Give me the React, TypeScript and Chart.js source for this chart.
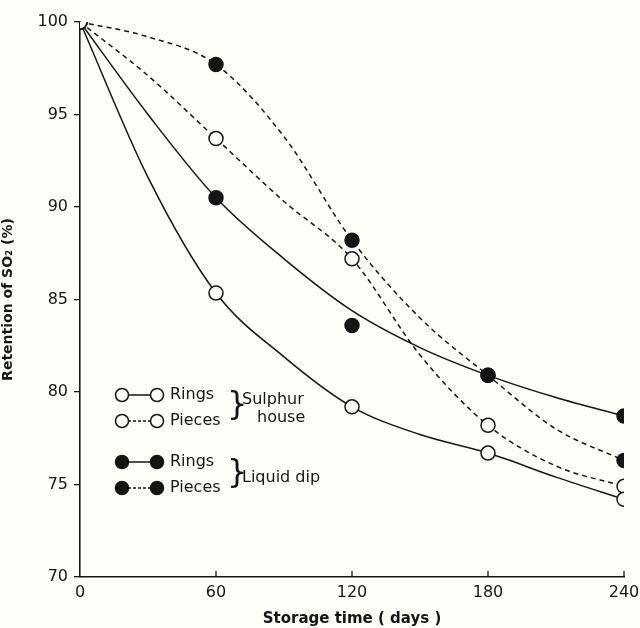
import React, { useEffect, useRef } from "react";
import { Chart, registerables } from "chart.js";

Chart.register(...registerables);

// measured points (storage days)
const days = [0, 60, 120, 180, 240];
const xTicks = [0, 60, 120, 180, 240];
const yTicks = [70, 75, 80, 85, 90, 95, 100];

const sulphurRings = [100, 85.35, 79.2, 76.7, 74.2];
const sulphurPieces = [100, 93.7, 87.2, 78.2, 74.9];
const liquidRings = [100, 90.5, 83.6, 80.9, 78.7];
const liquidPieces = [100, 97.7, 88.2, 80.9, 76.3];

// hand-drawn fitted curves every 30 days
const curveDays = [0, 30, 60, 90, 120, 150, 180, 210, 240];
const sulphurRingsCurve = [100, 91.6, 85.35, 81.9, 79.2, 77.7, 76.7, 75.4, 74.2];
const sulphurPiecesCurve = [100, 97.1, 93.7, 90.3, 87.2, 82.0, 78.2, 76.0, 74.9];
const liquidRingsCurve = [100, 95.0, 90.5, 87.2, 84.4, 82.4, 80.9, 79.7, 78.7];
const liquidPiecesCurve = [100, 99.2, 97.7, 93.8, 88.2, 84.0, 80.9, 78.0, 76.3];

const INK = "#151515";
const PAPER = "#fffef9";
const FONT = "'DejaVu Sans', sans-serif";

const toXY = (xs: number[], ys: number[]) => xs.map((d, i) => ({ x: d, y: ys[i] }));

export default function App() {
  const ref = useRef<HTMLCanvasElement | null>(null);

  useEffect(() => {
    document.body.style.margin = "0";
    document.body.style.background = PAPER;
    const canvas = ref.current!;

    const curve = (ys: number[], dashed: boolean) => ({
      type: "line" as const,
      data: toXY(curveDays, ys),
      borderColor: INK,
      borderWidth: 1.5,
      borderDash: dashed ? [5, 4] : [],
      pointRadius: 0,
      cubicInterpolationMode: "monotone" as const,
      fill: false,
      order: 2,
    });
    const marks = (ys: number[], filled: boolean) => ({
      type: "line" as const,
      data: toXY(days, ys),
      showLine: false,
      pointRadius: 7,
      pointBorderWidth: 1.5,
      pointBorderColor: INK,
      pointBackgroundColor: filled ? INK : PAPER,
      order: 1,
    });

    const legendPlugin = {
      id: "customLegend",
      afterDatasetsDraw(chart: any) {
        const c = chart.ctx;
        c.save();
        c.strokeStyle = INK;
        c.fillStyle = INK;
        const rows = [
          { y: 395, filled: false, dashed: false, label: "Rings" },
          { y: 421, filled: false, dashed: true, label: "Pieces" },
          { y: 462, filled: true, dashed: false, label: "Rings" },
          { y: 488, filled: true, dashed: true, label: "Pieces" },
        ];
        rows.forEach((r) => {
          c.lineWidth = 1.5;
          c.setLineDash(r.dashed ? [3, 2] : []);
          c.beginPath();
          c.moveTo(128, r.y);
          c.lineTo(151, r.y);
          c.stroke();
          c.setLineDash([]);
          [122, 157].forEach((cx) => {
            c.beginPath();
            c.arc(cx, r.y, 6.5, 0, Math.PI * 2);
            c.fillStyle = r.filled ? INK : PAPER;
            c.fill();
            c.lineWidth = 1.5;
            c.stroke();
          });
          c.fillStyle = INK;
          c.font = `16px ${FONT}`;
          c.textAlign = "left";
          c.textBaseline = "middle";
          c.fillText(r.label, 170, r.y);
        });
        c.font = `32px ${FONT}`;
        c.textBaseline = "middle";
        c.fillText("}", 227, 406);
        c.fillText("}", 227, 474);
        c.font = `16px ${FONT}`;
        c.fillText("Sulphur", 242, 400);
        c.fillText("house", 257, 418);
        c.fillText("Liquid dip", 242, 478);
        c.restore();
      },
    };

    const xTickPlugin = {
      id: "inwardTicks",
      afterDraw(chart: any) {
        const c = chart.ctx;
        const xs = chart.scales.x;
        const bottom = chart.chartArea.bottom;
        c.save();
        c.strokeStyle = INK;
        c.lineWidth = 1.3;
        xTicks.forEach((t) => {
          if (t === 0) return;
          const px = xs.getPixelForValue(t);
          c.beginPath();
          c.moveTo(px, bottom);
          c.lineTo(px, bottom - 6);
          c.stroke();
        });
        c.restore();
      },
    };

    const chart = new Chart(canvas, {
      type: "line",
      data: {
        datasets: [
          curve(sulphurRingsCurve, false),
          curve(sulphurPiecesCurve, true),
          curve(liquidRingsCurve, false),
          curve(liquidPiecesCurve, true),
          marks(sulphurRings, false),
          marks(sulphurPieces, false),
          marks(liquidRings, true),
          marks(liquidPieces, true),
        ] as any,
      },
      options: {
        animation: false,
        responsive: false,
        maintainAspectRatio: false,
        layout: { padding: { top: 22, right: 0, left: 0, bottom: 0 } },
        plugins: {
          legend: { display: false },
          tooltip: { enabled: false },
        },
        scales: {
          x: {
            type: "linear",
            min: 0,
            max: 240,
            afterBuildTicks: (s: any) => {
              s.ticks = xTicks.map((v) => ({ value: v }));
            },
            afterFit: (s: any) => {
              s.height = 51;
              s.paddingRight = 16;
            },
            grid: { display: false, drawTicks: false },
            border: { display: true, color: INK, width: 1.6 },
            ticks: {
              color: INK,
              font: { family: FONT, size: 16 },
              padding: 6,
              maxRotation: 0,
            },
            title: {
              display: true,
              text: "Storage time ( days )",
              color: INK,
              font: { family: FONT, size: 15, weight: "bold" },
              padding: { top: 0, bottom: 0 },
            },
          },
          y: {
            type: "linear",
            min: 70,
            max: 100,
            afterBuildTicks: (s: any) => {
              s.ticks = yTicks.map((v) => ({ value: v }));
            },
            afterFit: (s: any) => {
              s.width = 80;
            },
            grid: {
              display: true,
              drawOnChartArea: false,
              drawTicks: true,
              tickLength: 6,
              color: INK,
              lineWidth: 1.3,
            },
            border: { display: true, color: INK, width: 1.6 },
            ticks: {
              color: INK,
              font: { family: FONT, size: 16 },
              padding: 6,
            },
            title: {
              display: true,
              text: "Retention of SO₂ (%)",
              color: INK,
              font: { family: FONT, size: 14, weight: "bold" },
              padding: { top: 0, bottom: 0 },
            },
          },
        },
      },
      plugins: [legendPlugin, xTickPlugin],
    } as any);

    return () => chart.destroy();
  }, []);

  return (
    <div style={{ width: 640, height: 628, background: PAPER }}>
      <canvas ref={ref} width={640} height={628} style={{ display: "block" }} />
    </div>
  );
}
